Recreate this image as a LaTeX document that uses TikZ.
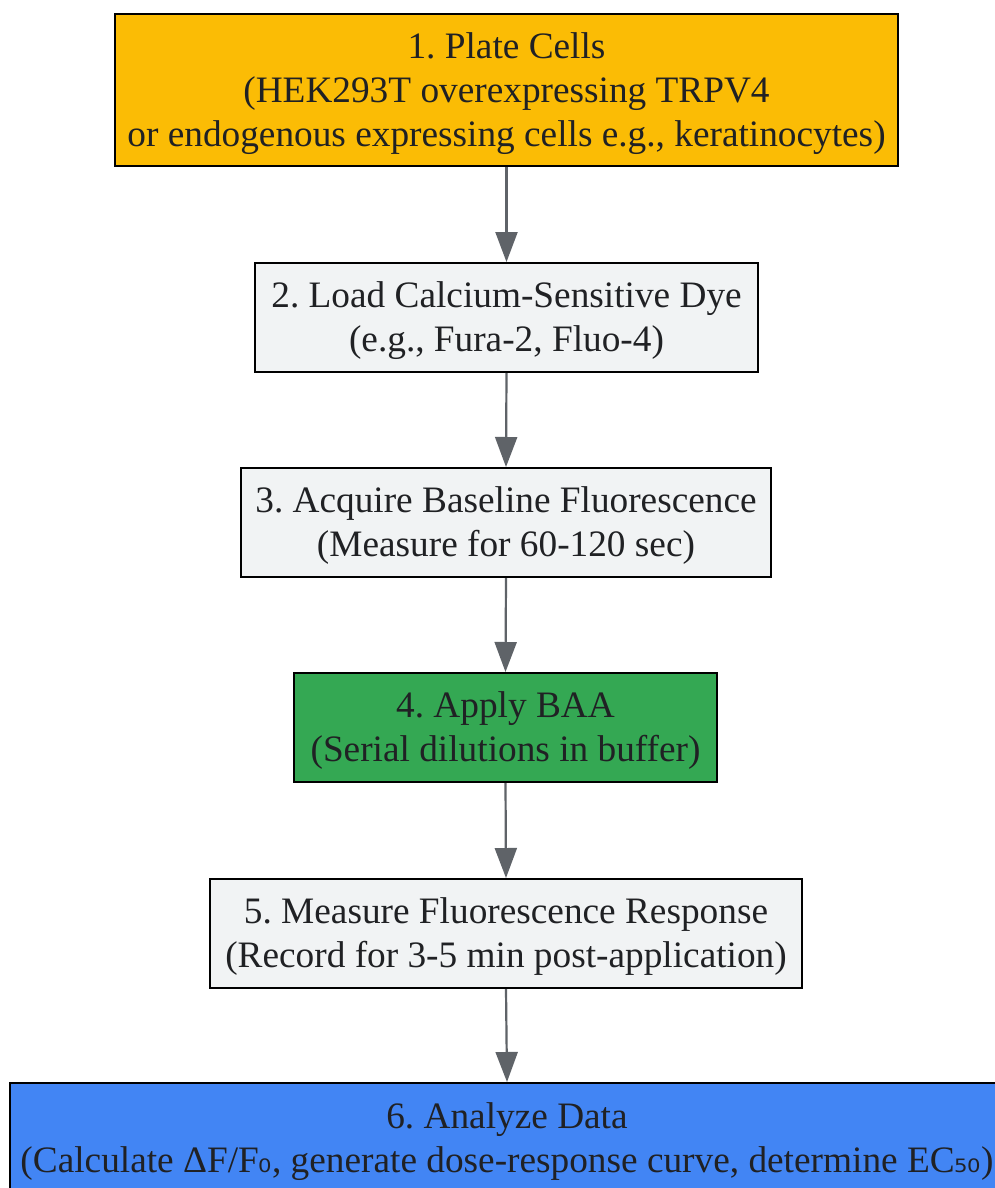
\documentclass[tikz,border=0pt]{standalone}
\usepackage{fontspec}
\setmainfont{Liberation Serif}
\newfontfamily\subfont{DejaVu Sans}
\usetikzlibrary{arrows.meta}
\definecolor{cyellow}{HTML}{FBBC05}
\definecolor{cgrey}{HTML}{F1F3F4}
\definecolor{cgreen}{HTML}{34A853}
\definecolor{cblue}{HTML}{4285F4}
\definecolor{ctext}{HTML}{202124}
\definecolor{cedge}{HTML}{5F6368}
\newcommand{\sbs}[1]{{\subfont\fontsize{33}{36}\selectfont #1}}
\tikzset{
  stepbox/.style={draw=black, line width=2pt, inner sep=0pt},
  steptext/.style={inner sep=0pt, align=center, text=ctext,
    font=\fontsize{37.3}{44}\selectfont\frenchspacing},
  flow/.style={draw=cedge, line width=2.2pt, -{Triangle[length=30pt,width=22pt]}}
}
\begin{document}
\begin{tikzpicture}[x=1pt,y=-1pt]
\useasboundingbox (0,0) rectangle (994,1188);
\fill[white] (0,0) rectangle (994,1188);
\node[stepbox, fill=cyellow, minimum width=783pt, minimum height=152pt] (n1) at (506.5,90) {};
\node[steptext] (t1) at ([yshift=-3.5pt]n1.center)
  {1. Plate Cells\\(HEK293T overexpressing TRPV4\\or endogenous expressing cells e.g., keratinocytes)};
\node[stepbox, fill=cgrey, minimum width=503pt, minimum height=109pt] (n2) at (506.5,317.5) {};
\node[steptext] (t2) at ([yshift=-3.5pt]n2.center)
  {2. Load Calcium-Sensitive Dye\\(e.g., Fura-2, Fluo-4)};
\node[stepbox, fill=cgrey, minimum width=530pt, minimum height=109pt] (n3) at (506,522.5) {};
\node[steptext] (t3) at ([yshift=-3.5pt]n3.center)
  {3. Acquire Baseline Fluorescence\\(Measure for 60-120 sec)};
\node[stepbox, fill=cgreen, minimum width=423pt, minimum height=109pt] (n4) at (505.5,727.5) {};
\node[steptext] (t4) at ([yshift=-3.5pt]n4.center)
  {4. Apply BAA\\(Serial dilutions in buffer)};
\node[stepbox, fill=cgrey, minimum width=592pt, minimum height=109pt] (n5) at (506,933.5) {};
\node[steptext] (t5) at ([yshift=-3.5pt]n5.center)
  {5. Measure Fluorescence Response\\(Record for 3-5 min post-application)};
\node[stepbox, fill=cblue, minimum width=994pt, minimum height=112pt] (n6) at (507,1139) {};
\node[steptext] (t6) at ([yshift=-2.5pt]n6.center)
  {6. Analyze Data\\(Calculate ΔF/F\sbs{₀}, generate dose-response curve, determine EC\sbs{₅₀})};
\draw[flow] (n1.south) -- (n2.north);
\draw[flow] (n2.south) -- (n3.north);
\draw[flow] (n3.south) -- (n4.north);
\draw[flow] (n4.south) -- (n5.north);
\draw[flow] (n5.south) -- (n6.north);
\end{tikzpicture}
\end{document}
